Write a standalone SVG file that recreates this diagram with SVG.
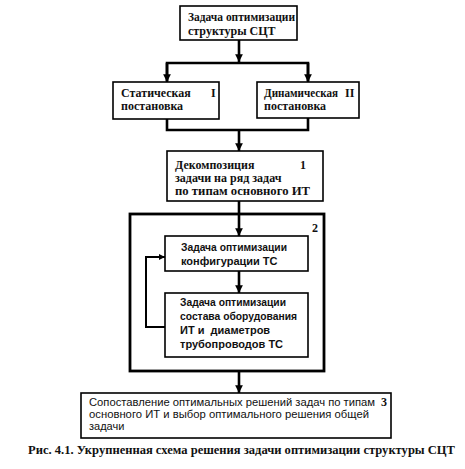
<svg xmlns="http://www.w3.org/2000/svg" width="465" height="469" viewBox="0 0 465 469">
<defs>
<marker id="ah" viewBox="0 0 10 10" refX="10" refY="5" markerWidth="3" markerHeight="3.4" orient="auto" markerUnits="strokeWidth">
<path d="M0,0 L10,5 L0,10 Z" fill="#000"/>
</marker>
</defs>
<style>
.box{fill:#fff;stroke:#000;stroke-width:1.6}
.big{fill:none;stroke:#000;stroke-width:2.8}
.ln{fill:none;stroke:#000;stroke-width:2.6}
.ar{fill:none;stroke:#000;stroke-width:2.6;marker-end:url(#ah)}
.ar2{fill:none;stroke:#000;stroke-width:2;marker-end:url(#ah)}
.s{font-family:"Liberation Serif",serif;font-weight:bold;font-size:12px;fill:#111}
.a{font-family:"Liberation Sans",sans-serif;font-size:11px;fill:#111}
.ab{font-family:"Liberation Sans",sans-serif;font-weight:bold;font-size:11px;fill:#111;white-space:pre}
.cap{font-family:"Liberation Serif",serif;font-weight:bold;font-size:12px;fill:#111}
</style>
<rect width="465" height="469" fill="#fff"/>
<g id="connectors">
<path class="ar" d="M239,40 V62"/>
<path class="ln" d="M167,81 V63 H308 V81"/>
<path class="ar" d="M167,63 V82"/>
<path class="ar" d="M308,63 V82"/>
<path class="ln" d="M167,119 V130 H308 V118"/>
<path class="ar" d="M239,130 V151"/>
<path class="ar" d="M239,201 V236"/>
<path class="ar" d="M239,271 V293"/>
<path class="ar2" d="M165,327 H146 V257 H165"/>
<path class="ar" d="M239,371 V393"/>
</g>
<g id="n0">
<rect class="box" x="180" y="6" width="117" height="34"/>
<text class="s" x="188" y="21" textLength="107" lengthAdjust="spacingAndGlyphs">Задача оптимизации</text>
<text class="s" x="188" y="35">структуры СЦТ</text>
</g>
<g id="n1">
<rect class="box" x="113" y="82" width="106" height="37"/>
<text class="s" x="121" y="97">Статическая</text>
<text class="s" x="121" y="110">постановка</text>
<text class="s" x="211" y="97">I</text>
</g>
<g id="n2">
<rect class="box" x="257" y="82" width="102" height="36"/>
<text class="s" x="264" y="97" textLength="74" lengthAdjust="spacingAndGlyphs">Динамическая</text>
<text class="s" x="264" y="110">постановка</text>
<text class="s" x="345" y="97">II</text>
</g>
<g id="n3">
<rect class="box" x="167" y="151" width="156" height="50"/>
<text class="s" x="175" y="169">Декомпозиция</text>
<text class="s" x="175" y="182">задачи на ряд задач</text>
<text class="s" x="175" y="195" textLength="135" lengthAdjust="spacingAndGlyphs">по типам основного ИТ</text>
<text class="s" x="300" y="169">1</text>
</g>
<g id="n4">
<rect class="big" x="130" y="214" width="194" height="157"/>
<text class="s" x="312" y="232">2</text>
</g>
<g id="n5">
<rect class="box" x="165" y="236" width="143" height="35"/>
<text class="ab" x="181" y="251" textLength="106" lengthAdjust="spacingAndGlyphs">Задача оптимизации</text>
<text class="ab" x="181" y="265">конфигурации ТС</text>
</g>
<g id="n6">
<rect class="box" x="165" y="293" width="143" height="64"/>
<text class="ab" x="180" y="306" textLength="106" lengthAdjust="spacingAndGlyphs">Задача оптимизации</text>
<text class="ab" x="180" y="320" textLength="117" lengthAdjust="spacingAndGlyphs">состава оборудования</text>
<text class="ab" x="180" y="334" xml:space="preserve">ИТ и  диаметров</text>
<text class="ab" x="180" y="348">трубопроводов ТС</text>
</g>
<g id="n7">
<rect class="box" x="81" y="393" width="310" height="45"/>
<text class="a" x="89" y="406" textLength="286" lengthAdjust="spacingAndGlyphs">Сопоставление оптимальных решений задач по типам</text>
<text class="a" x="89" y="418" textLength="280" lengthAdjust="spacingAndGlyphs">основного ИТ и выбор оптимального решения общей</text>
<text class="a" x="89" y="430">задачи</text>
<text class="s" x="381" y="406">3</text>
</g>
<text class="cap" x="28" y="454" textLength="427" lengthAdjust="spacingAndGlyphs">Рис. 4.1. Укрупненная схема решения задачи оптимизации структуры СЦТ</text>
</svg>
